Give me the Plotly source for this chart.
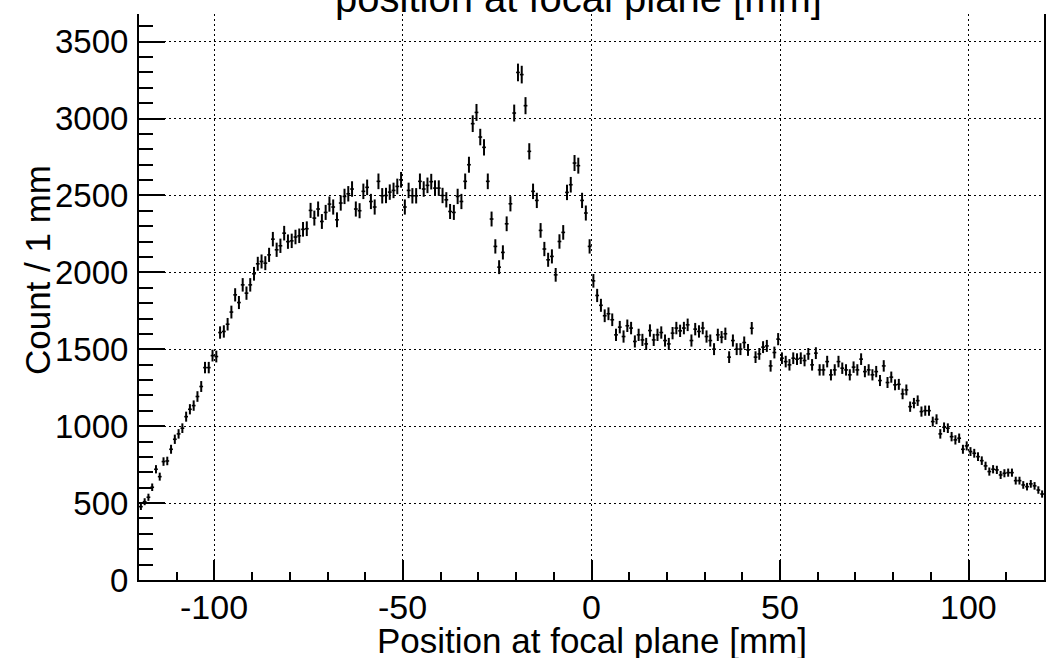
import numpy as np
import plotly.graph_objects as go

# Histogram: 1 mm bins from -120 to 120 mm
bin_low = -120.0
bin_width = 1.0
counts = [
    477, 509, 538, 603, 720, 672, 770, 774, 850, 915,
    950, 987, 1062, 1110, 1134, 1193, 1258, 1381, 1381, 1459,
    1453, 1609, 1616, 1663, 1742, 1854, 1804, 1919, 1865, 1919,
    1991, 2056, 2071, 2060, 2114, 2216, 2147, 2173, 2255, 2200,
    2205, 2230, 2238, 2280, 2284, 2403, 2353, 2412, 2331, 2390,
    2444, 2425, 2342, 2451, 2494, 2511, 2542, 2412, 2401, 2527,
    2553, 2461, 2425, 2592, 2498, 2500, 2522, 2533, 2559, 2602,
    2425, 2533, 2498, 2498, 2592, 2542, 2566, 2590, 2548, 2548,
    2500, 2472, 2396, 2390, 2494, 2461, 2592, 2700, 2967, 3040,
    2880, 2813, 2592, 2347, 2169, 2034, 2130, 2316, 2446, 3036,
    3300, 3286, 3084, 2787, 2527, 2468, 2273, 2152, 2082, 2104,
    1984, 2201, 2260, 2520, 2570, 2711, 2694, 2468, 2386, 2169,
    1945, 1850, 1786, 1718, 1731, 1692, 1594, 1644, 1583, 1653,
    1638, 1551, 1594, 1561, 1535, 1622, 1561, 1594, 1609, 1557,
    1535, 1605, 1638, 1620, 1638, 1659, 1557, 1631, 1616, 1638,
    1583, 1557, 1501, 1594, 1579, 1601, 1449, 1557, 1501, 1501,
    1544, 1496, 1637, 1449, 1470, 1514, 1522, 1392, 1479, 1566,
    1442, 1420, 1399, 1442, 1436, 1442, 1427, 1470, 1399, 1475,
    1366, 1366, 1420, 1334, 1366, 1420, 1377, 1366, 1334, 1384,
    1366, 1436, 1355, 1366, 1334, 1355, 1297, 1392, 1284, 1319,
    1269, 1272, 1210, 1236, 1127, 1150, 1166, 1095, 1101, 1101,
    1030, 1045, 950, 993, 987, 932, 911, 922, 850, 872,
    835, 824, 802, 776, 742, 705, 720, 716, 683, 694,
    698, 698, 646, 646, 618, 607, 625, 612, 585, 559,
]

x_tick_values = [-100, -50, 0, 50, 100]
x_tick_labels = ["-100", "-50", "0", "50", "100"]

title_text = "position at focal plane [mm]"
x_title = "Position at focal plane [mm]"
y_title = "Count / 1 mm"

counts_arr = np.array(counts, dtype=float)
x_centers = bin_low + bin_width * (np.arange(len(counts)) + 0.5)
errors = np.sqrt(counts_arr)

FONT = "Liberation Sans, Arial, Helvetica, sans-serif"

fig = go.Figure()
fig.add_trace(go.Scatter(
    x=x_centers, y=counts_arr, mode="markers",
    marker=dict(size=1, color="black"),
    error_y=dict(type="data", array=errors, visible=True, color="black", thickness=2, width=0),
    error_x=dict(type="constant", value=bin_width / 2, visible=True, color="black", thickness=1.6, width=0),
    showlegend=False, hoverinfo="x+y",
))

annotations = [
    dict(text=title_text, xref="paper", yref="paper", x=0.4857, y=0.9867,
         xanchor="center", yanchor="bottom", showarrow=False,
         font=dict(size=40, family=FONT, color="black")),
    dict(text=x_title, xref="paper", yref="paper", x=0.5, y=-0.0694,
         xanchor="center", yanchor="top", showarrow=False,
         font=dict(size=35, family=FONT, color="black")),
    dict(text=y_title, xref="paper", yref="paper", x=-0.0889, y=0.5477,
         xanchor="right", yanchor="middle", textangle=-90, showarrow=False,
         font=dict(size=35, family=FONT, color="black")),
]
for v, t in zip(x_tick_values, x_tick_labels):
    annotations.append(dict(text=t, x=v, xref="x", yref="paper", y=-0.0099,
                            xanchor="center", yanchor="top", showarrow=False,
                            font=dict(size=34, family=FONT, color="black")))

fig.update_layout(
    width=1058, height=658,
    margin=dict(l=139, r=12, t=14, b=78, pad=0),
    paper_bgcolor="white", plot_bgcolor="white",
    font=dict(family=FONT, color="black", size=33),
    xaxis=dict(
        range=[-120, 120], tickvals=x_tick_values, showticklabels=False,
        showline=True, linecolor="black", linewidth=2, mirror=False,
        ticks="inside", ticklen=20, tickwidth=1.5, tickcolor="black",
        minor=dict(dtick=10, ticklen=8, tickwidth=1.5, tickcolor="black", ticks="inside", showgrid=False),
        showgrid=True, gridcolor="black", gridwidth=1, griddash="2px,3px",
        zeroline=False,
    ),
    yaxis=dict(
        range=[0, 3680], tick0=0, dtick=500,
        showline=True, linecolor="black", linewidth=2, mirror=True,
        ticks="inside", ticklen=26, tickwidth=1.5, tickcolor="black",
        minor=dict(dtick=100, ticklen=14, tickwidth=1.5, tickcolor="black", ticks="inside", showgrid=False),
        showgrid=True, gridcolor="black", gridwidth=1, griddash="2px,3px",
        zeroline=False, tickfont=dict(size=33), ticklabelstandoff=2,
    ),
    annotations=annotations,
)

fig.write_html("out.html")
